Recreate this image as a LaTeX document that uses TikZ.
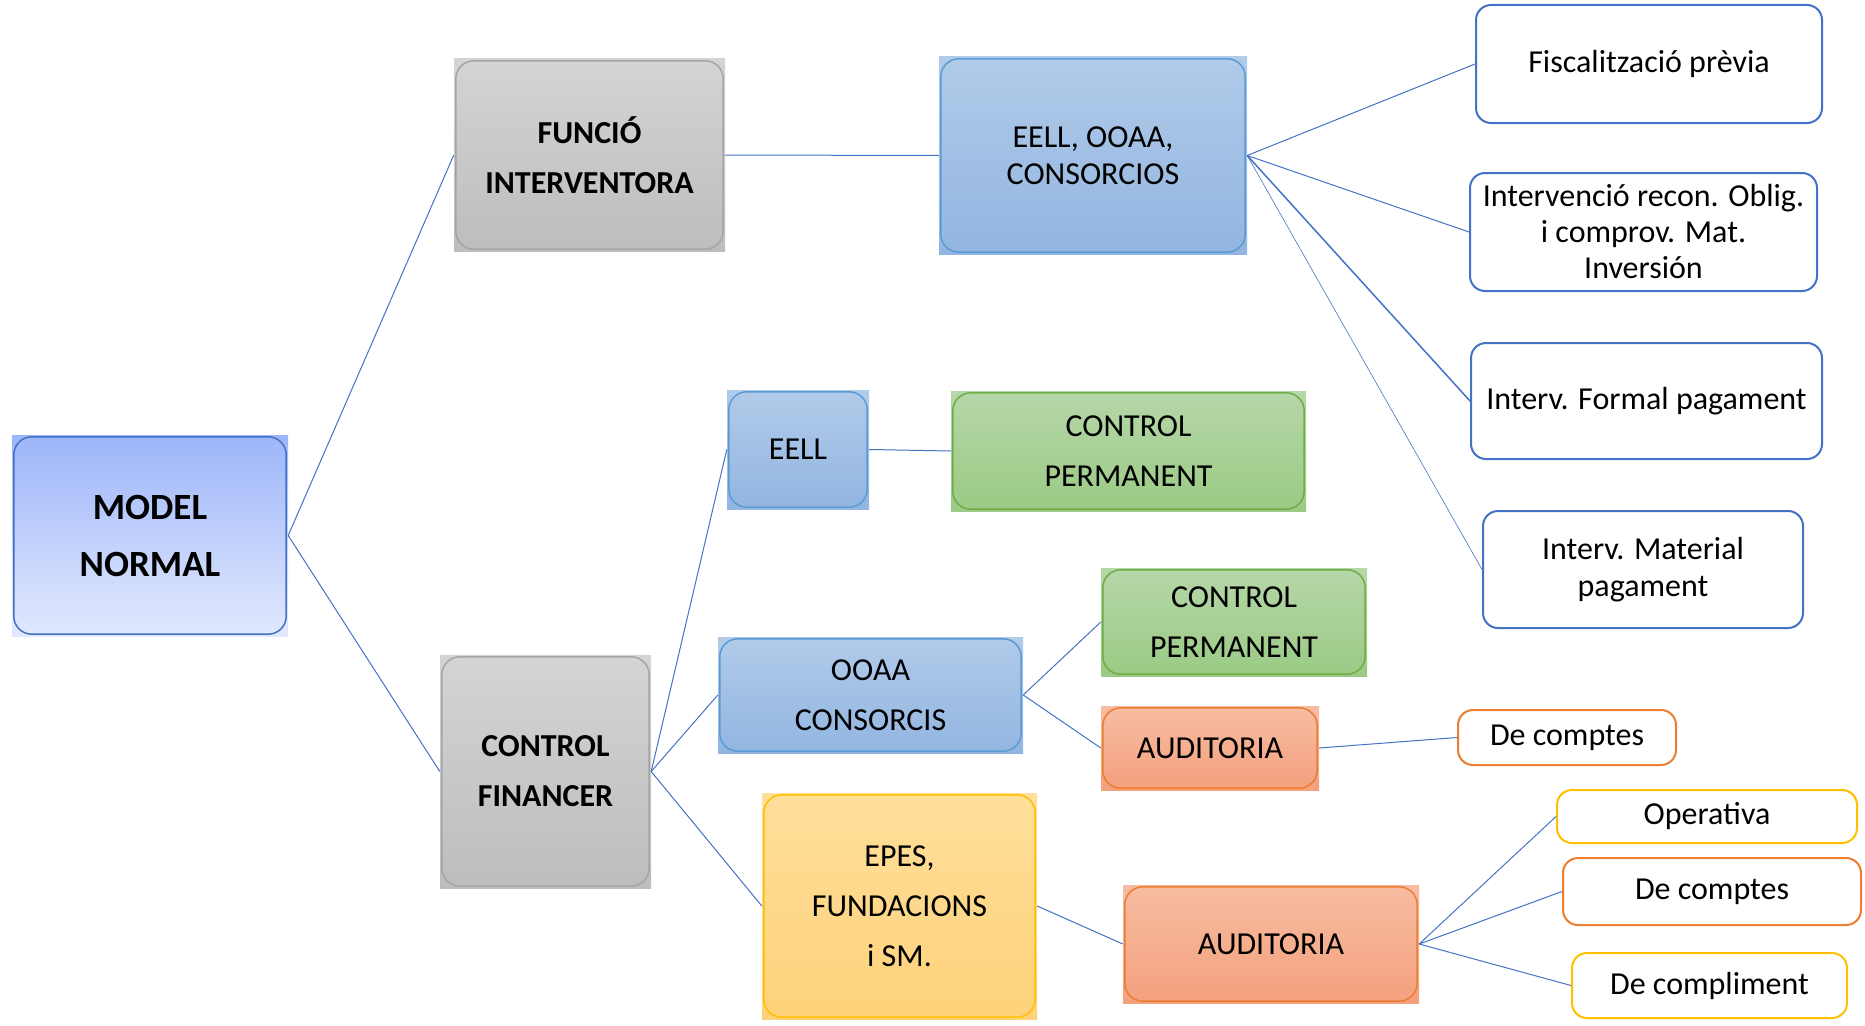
\documentclass[tikz,border=0pt]{standalone}
\usepackage{fontspec}
\setmainfont{Carlito}
\usetikzlibrary{calc}

\definecolor{linkblue}{RGB}{68,114,196}
\definecolor{bordblue}{RGB}{91,155,213}
\definecolor{bordgray}{RGB}{165,165,165}
\definecolor{bordgreen}{RGB}{112,173,71}
\definecolor{bordorange}{RGB}{237,125,49}
\definecolor{bordyellow}{RGB}{255,192,0}
\definecolor{rootA}{RGB}{157,182,250}
\definecolor{rootB}{RGB}{226,233,253}
\definecolor{grayA}{RGB}{212,212,212}
\definecolor{grayB}{RGB}{189,189,189}
\definecolor{blueA}{RGB}{177,203,233}
\definecolor{blueB}{RGB}{146,181,225}
\definecolor{greenA}{RGB}{182,215,168}
\definecolor{greenB}{RGB}{154,202,132}
\definecolor{orangeA}{RGB}{247,189,162}
\definecolor{orangeB}{RGB}{244,160,125}
\definecolor{yellowA}{RGB}{254,223,155}
\definecolor{yellowB}{RGB}{254,210,122}

\begin{document}
\begin{tikzpicture}
% one unit is one pixel of the original slide, y grows downwards
[x=1pt,y=-1pt,
 link/.style={draw=linkblue,line width=1pt},
 txt/.style={font=\fontsize{32}{50}\selectfont,align=center},
 fillbox/.style 2 args={rectangle,inner sep=0pt,top color=#1,bottom color=#2,draw=none,txt},
 graybox/.style={fillbox={grayA}{grayB},font=\fontsize{32}{50}\selectfont\bfseries},
 bluebox/.style={fillbox={blueA}{blueB}},
 greenbox/.style={fillbox={greenA}{greenB}},
 orangebox/.style={fillbox={orangeA}{orangeB}},
 yellowbox/.style={fillbox={yellowA}{yellowB}},
 rim/.style={line width=1.5pt,rounded corners=18pt},
 leaf/.style={rectangle,rounded corners=15pt,fill=white,line width=2pt,inner sep=0pt,txt},
]
\useasboundingbox (0,0) rectangle (1865,1025);

%Root and first level:
\node[fillbox={rootA}{rootB},
  font=\fontsize{37}{57}\selectfont\bfseries,minimum width=276pt,minimum height=201pt]
  (model) at (150,535.5) {MODEL\\NORMAL};
\node[graybox,minimum width=271pt,minimum height=192pt] (funcio) at (589.5,155) {FUNCIÓ\\INTERVENTORA};
\node[graybox,minimum width=211pt,minimum height=233pt] (financer) at (545.5,771.5) {CONTROL\\FINANCER};

%Funció interventora branch:
\node[bluebox,font=\fontsize{32}{37}\selectfont,minimum width=308pt,minimum height=197pt]
  (eoc) at (1093,155.5) {EELL, OOAA,\\CONSORCIOS};
\node[leaf,draw=linkblue,minimum width=346pt,minimum height=118pt] (fisc) at (1649,64) {Fiscalització prèvia};
\node[leaf,draw=linkblue,font=\fontsize{32}{36}\selectfont,minimum width=347pt,minimum height=118pt]
  (recon) at (1643.5,232) {Intervenció recon. Oblig.\\i comprov. Mat.\\Inversión};
\node[leaf,draw=linkblue,minimum width=351pt,minimum height=116pt] (formal) at (1646.5,401) {Interv. Formal pagament};
\node[leaf,draw=linkblue,font=\fontsize{32}{37}\selectfont,minimum width=320pt,minimum height=117pt]
  (material) at (1643,569.5) {Interv. Material\\pagament};

%Control financer branch:
\node[bluebox,minimum width=142pt,minimum height=119pt] (eell) at (798,449.5) {EELL};
\node[greenbox,minimum width=355pt,minimum height=120pt] (perm1) at (1128.5,451) {CONTROL\\PERMANENT};
\node[bluebox,minimum width=305pt,minimum height=116pt] (ooaa) at (870.5,695) {OOAA\\CONSORCIS};
\node[greenbox,minimum width=266pt,minimum height=108pt] (perm2) at (1234,622) {CONTROL\\PERMANENT};
\node[orangebox,minimum width=218pt,minimum height=84pt] (audit1) at (1210,748) {AUDITORIA};
\node[leaf,draw=bordorange,minimum width=218pt,minimum height=55pt] (comptes1) at (1567,737.5) {De comptes};
\node[yellowbox,minimum width=275pt,minimum height=226pt] (epes) at (899.5,906) {EPES,\\FUNDACIONS\\i SM.};
\node[orangebox,minimum width=296pt,minimum height=118pt] (audit2) at (1271,944) {AUDITORIA};
\node[leaf,draw=bordyellow,minimum width=300pt,minimum height=53pt] (operativa) at (1707,816.5) {Operativa};
\node[leaf,draw=bordorange,minimum width=298pt,minimum height=67pt] (comptes2) at (1712,891.5) {De comptes};
\node[leaf,draw=bordyellow,minimum width=275pt,minimum height=65pt] (compliment) at (1709.5,985.5) {De compliment};

%Rounded rims on the shaded boxes:
\foreach \n/\c in {model/linkblue,funcio/bordgray,financer/bordgray,eoc/bordblue,eell/bordblue,
    ooaa/bordblue,perm1/bordgreen,perm2/bordgreen,audit1/bordorange,audit2/bordorange,epes/bordyellow}
  \draw[rim,draw=\c] ([shift={(2pt,2pt)}]\n.south west) rectangle ([shift={(-2pt,-2pt)}]\n.north east);

%Connectors:
\draw[link] (model.east) -- (funcio.west);
\draw[link] (model.east) -- (financer.west);
\draw[link] (funcio.east) -- (eoc.west);
\draw[link] (eoc.east) -- (fisc.west);
\draw[link] (eoc.east) -- (recon.west);
\draw[link,line width=1.5pt] (eoc.east) -- (formal.west);
\draw[link,line width=0.6pt] (eoc.east) -- (material.west);
\draw[link] (financer.east) -- (eell.west);
\draw[link] (financer.east) -- (ooaa.west);
\draw[link] (financer.east) -- (epes.west);
\draw[link] (eell.east) -- (perm1.west);
\draw[link] (ooaa.east) -- (perm2.west);
\draw[link] (ooaa.east) -- (audit1.west);
\draw[link] (audit1.east) -- (comptes1.west);
\draw[link] (epes.east) -- (audit2.west);
\draw[link] (audit2.east) -- (operativa.west);
\draw[link] (audit2.east) -- (comptes2.west);
\draw[link] (audit2.east) -- (compliment.west);
\end{tikzpicture}
\end{document}
